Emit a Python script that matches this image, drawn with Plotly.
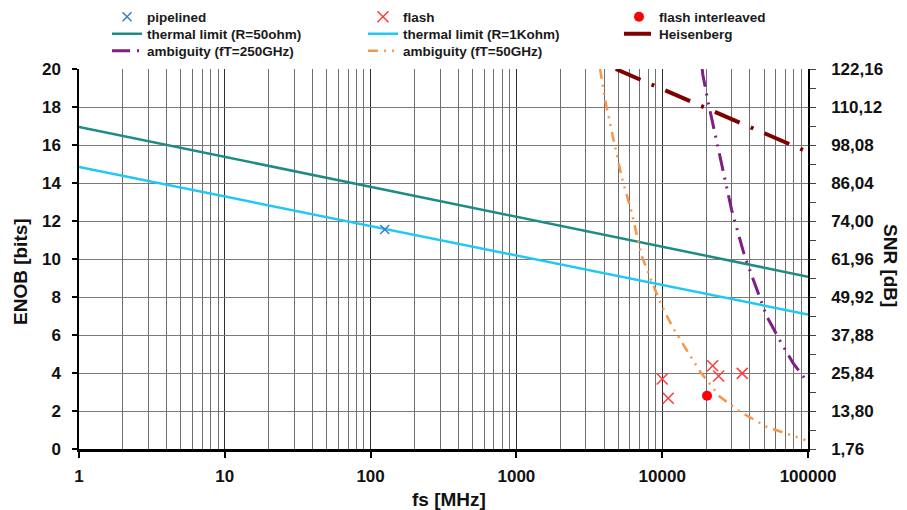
import plotly.graph_objects as go

# ---------------- data ----------------
fs_thermal = [1, 100000]
enob_thermal_50 = [16.95, 9.07]
enob_thermal_1k = [14.84, 7.08]

fs_heis = [4800, 95000]
enob_heis = [20.0, 15.7]

fs_amb250 = [18800, 19000, 20600, 24900, 29900, 36600, 42200, 52000, 64300, 79300, 95300]
enob_amb250 = [20.0, 19.7, 18.3, 15.4, 12.6, 10.2, 8.9, 7.0, 5.7, 4.5, 3.7]

fs_amb50 = [3750, 4050, 4600, 5300, 6200, 7200, 8500, 9700, 11900, 14700, 18200, 24900, 34200, 52000, 88000, 96000]
enob_amb50 = [20.0, 18.4, 16.4, 14.25, 12.4, 10.2, 8.8, 7.7, 6.35, 5.2, 4.07, 2.75, 1.96, 1.17, 0.56, 0.47]

fs_pipe = [125]
enob_pipe = [11.55]

fs_flash = [10000, 11000, 22200, 24400, 35400]
enob_flash = [3.68, 2.67, 4.38, 3.84, 3.98]

fs_interleaved = [20300]
enob_interleaved = [2.8]

x_tickvals = [1, 10, 100, 1000, 10000, 100000]
x_ticktext = ["1", "10", "100", "1000", "10000", "100000"]
y_tickvals = [0, 2, 4, 6, 8, 10, 12, 14, 16, 18, 20]
snr_ticktext = ["1,76", "13,80", "25,84", "37,88", "49,92", "61,96",
                "74,00", "86,04", "98,08", "110,12", "122,16"]

FONT = "Liberation Sans, Arial, sans-serif"

fig = go.Figure()

# lines
fig.add_trace(go.Scatter(x=fs_thermal, y=enob_thermal_50, mode="lines",
                         name="thermal limit (R=50ohm)",
                         line=dict(color="#1E8C84", width=2.5), legend="legend4"))
fig.add_trace(go.Scatter(x=fs_thermal, y=enob_thermal_1k, mode="lines",
                         name="thermal limit (R=1Kohm)",
                         line=dict(color="#1FC8F5", width=2.5), legend="legend5"))
fig.add_trace(go.Scatter(x=fs_heis, y=enob_heis, mode="lines", name="Heisenberg",
                         line=dict(color="#800000", width=4, dash="27px,12px,3px,12px"),
                         legend="legend6"))
fig.add_trace(go.Scatter(x=fs_amb250, y=enob_amb250, mode="lines",
                         name="ambiguity (fT=250GHz)",
                         line=dict(color="#7F1F86", width=3,
                                   dash="18px,7px,2px,7px,2px,7px"),
                         legend="legend7"))
fig.add_trace(go.Scatter(x=fs_amb50, y=enob_amb50, mode="lines",
                         name="ambiguity (fT=50GHz)",
                         line=dict(color="#F7964A", width=2.5,
                                   dash="10px,6px,2px,6px,2px,6px"),
                         legend="legend8"))

# markers
fig.add_trace(go.Scatter(x=fs_pipe, y=enob_pipe, mode="markers", name="pipelined",
                         marker=dict(symbol="x-thin-open", size=9, color="#3C7CCB",
                                     line=dict(color="#3C7CCB", width=1.5)),
                         legend="legend"))
fig.add_trace(go.Scatter(x=fs_flash, y=enob_flash, mode="markers", name="flash",
                         marker=dict(symbol="x-thin-open", size=11, color="#FF3B3B",
                                     line=dict(color="#FF3B3B", width=1.5)),
                         legend="legend2"))
fig.add_trace(go.Scatter(x=fs_interleaved, y=enob_interleaved, mode="markers",
                         name="flash interleaved",
                         marker=dict(symbol="circle", size=10, color="#FF0000"),
                         legend="legend3"))

# invisible trace to activate right axis
fig.add_trace(go.Scatter(x=[1, 100000], y=[0, 20], yaxis="y2", mode="lines",
                         line=dict(width=0, color="rgba(0,0,0,0)"),
                         showlegend=False, hoverinfo="skip"))

W, H = 907, 510
col_x = [107, 363, 619]
row_top = [1.5, 18.5, 35.5]


def leg(ix, iy):
    return dict(x=col_x[ix] / W, y=1 - row_top[iy] / H, xref="container",
                yref="container", xanchor="left", yanchor="top",
                orientation="v", bgcolor="rgba(0,0,0,0)", borderwidth=0,
                font=dict(family=FONT, size=13.5, color="#1a1a1a", weight="bold"))


tickfont = dict(family=FONT, size=17, color="#111111", weight="bold")

fig.update_layout(
    width=W, height=H,
    margin=dict(l=79, r=99, t=69, b=61, autoexpand=False),
    paper_bgcolor="white", plot_bgcolor="white",
    font=dict(family=FONT, color="#111111"),
    legend=leg(0, 0), legend2=leg(1, 0), legend3=leg(2, 0),
    legend4=leg(0, 1), legend5=leg(1, 1), legend6=leg(2, 1),
    legend7=leg(0, 2), legend8=leg(1, 2),
    xaxis=dict(type="log", range=[0, 5], tickmode="array",
               tickvals=x_tickvals, ticktext=x_ticktext,
               showgrid=True, gridcolor="#2e2e2e", gridwidth=1,
               minor=dict(dtick="D1", showgrid=True, gridcolor="#6e6e6e",
                          gridwidth=1, ticks=""),
               showline=True, linecolor="black", linewidth=2.5,
               ticks="outside", ticklen=6, tickcolor="black", tickwidth=1.5,
               tickfont=tickfont, ticklabelstandoff=4, zeroline=False),
    yaxis=dict(range=[0, 20], tickmode="array", tickvals=y_tickvals,
               ticktext=[str(v) for v in y_tickvals],
               showgrid=True, gridcolor="#7a7a7a", gridwidth=1,
               showline=True, linecolor="black", linewidth=1.5,
               ticks="outside", ticklen=5, tickcolor="black", tickwidth=1.5,
               tickfont=tickfont, ticklabelstandoff=8, zeroline=False),
    yaxis2=dict(range=[0, 20], overlaying="y", side="right", tickmode="array",
                tickvals=y_tickvals, ticktext=snr_ticktext,
                showgrid=False, showline=True, linecolor="black", linewidth=1.5,
                ticks="outside", ticklen=6, tickcolor="#444444", tickwidth=1,
                minor=dict(dtick=1, ticks="outside", ticklen=6, tickcolor="#444444"),
                tickfont=tickfont, ticklabelstandoff=12, zeroline=False),
    annotations=[
        dict(text="ENOB [bits]", x=(20 - 79) / 729, y=(449 - 272) / 380,
             xref="paper", yref="paper", textangle=-90, showarrow=False,
             xanchor="center", yanchor="middle",
             font=dict(family=FONT, size=19, color="#111111", weight="bold")),
        dict(text="SNR [dB]", x=(891 - 79) / 729, y=(449 - 265) / 380,
             xref="paper", yref="paper", textangle=90, showarrow=False,
             xanchor="center", yanchor="middle",
             font=dict(family=FONT, size=19, color="#111111", weight="bold")),
        dict(text="fs [MHz]", x=(449 - 79) / 729, y=(449 - 499) / 380,
             xref="paper", yref="paper", showarrow=False,
             xanchor="center", yanchor="middle",
             font=dict(family=FONT, size=19, color="#111111", weight="bold")),
    ],
    showlegend=True,
)

fig.write_html("out.html")
